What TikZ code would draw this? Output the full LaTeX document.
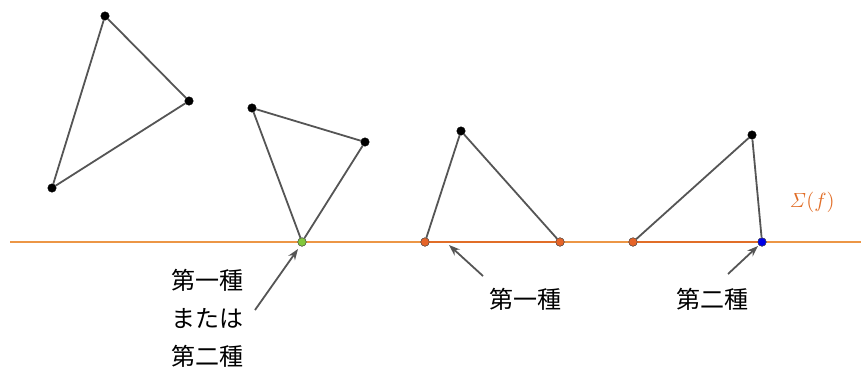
\documentclass[tikz,border=0pt]{standalone}
\usepackage[no-math]{fontspec}
\newfontfamily\cjk{Noto Sans CJK JP}
\usetikzlibrary{arrows.meta}
\definecolor{lineor}{RGB}{236,150,70}
\definecolor{segor}{RGB}{225,110,40}
\definecolor{ptor}{RGB}{230,100,40}
\definecolor{ptgr}{RGB}{130,200,60}
\definecolor{ptbl}{RGB}{0,0,230}
\definecolor{edge}{RGB}{85,85,85}
\tikzset{
  edgeline/.style={draw=edge, line width=1.8pt},
  pt/.style={circle, inner sep=0pt, minimum size=8.5pt, fill=black, draw=black, line width=0.4pt},
  ptorange/.style={pt, fill=ptor, draw=black!70},
  ptgreen/.style={pt, fill=ptgr, draw=black!70},
  ptblue/.style={pt, fill=ptbl, draw=black!70},
  lbl/.style={font=\cjk\fontsize{24}{28}\selectfont, text=black, inner sep=0pt},
  pointer/.style={draw=edge, line width=1.8pt, -{Stealth[length=11pt,width=8pt]}},
}
\begin{document}
\begin{tikzpicture}[x=1pt,y=-1pt]
\useasboundingbox (0,0) rectangle (861,367);
% Sigma line
\coordinate (L) at (10,242);
\coordinate (R) at (861,242);
\draw[lineor, line width=1.8pt] (L) -- (R);
\node[text=segor, scale=2.05] (sig) at (812,202) {$\mathit{\Sigma}(f)$};
% triangle 1
\node[pt] (a1) at (105,16) {};
\node[pt] (b1) at (189,101) {};
\node[pt] (c1) at (52,188) {};
\draw[edgeline] (a1) -- (b1) -- (c1) -- (a1);
% triangle 2
\node[pt] (a2) at (252,108) {};
\node[pt] (b2) at (365,142) {};
\node[ptgreen] (c2) at (302,242) {};
\draw[edgeline] (a2) -- (b2) -- (c2) -- (a2);
% triangle 3
\node[pt] (a3) at (461,131) {};
\node[ptorange] (b3) at (425,242) {};
\node[ptorange] (c3) at (560,242) {};
\draw[segor, line width=2.4pt] (b3) -- (c3);
\draw[edgeline] (b3) -- (a3) -- (c3);
% triangle 4
\node[pt] (a4) at (752,135) {};
\node[ptorange] (b4) at (633,242) {};
\node[ptblue] (c4) at (762,242) {};
\draw[segor, line width=2.4pt] (b4) -- (c4);
\draw[edgeline] (b4) -- (a4) -- (c4);
% redraw points on top
\node[ptgreen] at (c2) {};
\node[ptorange] at (b3) {};
\node[ptorange] at (c3) {};
\node[ptorange] at (b4) {};
\node[ptblue] at (c4) {};
% labels
\node[lbl] (t1) at (207,280) {第一種};
\node[lbl] (t2) at (207,319) {または};
\node[lbl] (t3) at (207,356) {第二種};
\node[lbl] (t4) at (525,299) {第一種};
\node[lbl] (t5) at (712,299) {第二種};
% pointers
\coordinate (p1s) at (255,310);
\coordinate (p1e) at (298,249);
\draw[pointer] (p1s) -- (p1e);
\coordinate (p2s) at (483,276);
\coordinate (p2e) at (449,245);
\draw[pointer] (p2s) -- (p2e);
\coordinate (p3s) at (728,274);
\coordinate (p3e) at (758,246);
\draw[pointer] (p3s) -- (p3e);
\end{tikzpicture}
\end{document}
